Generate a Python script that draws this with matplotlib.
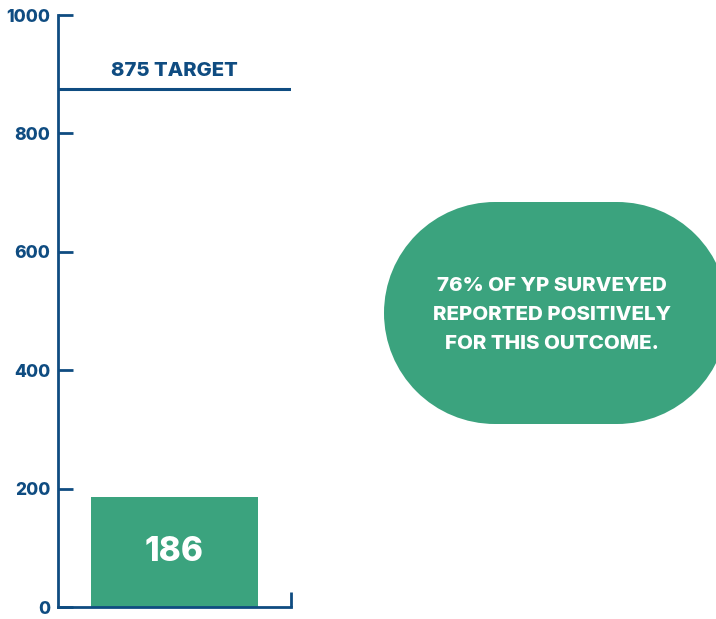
import matplotlib
matplotlib.use("Agg")
import matplotlib.pyplot as plt
from matplotlib.patches import Circle, Rectangle

# Data
categories = ["YP"]
values = [186]
target = 875
yticks = [0, 200, 400, 600, 800, 1000]
target_label = "875 TARGET"
note_text = "76% OF YP SURVEYED\nREPORTED POSITIVELY\nFOR THIS OUTCOME."

BLUE = "#0f4c81"
GREEN = "#3ba37e"
W, H = 716, 619

plt.rcParams['font.family'] = ['Inter', 'DejaVu Sans']

fig = plt.figure(figsize=(W / 100, H / 100), dpi=100)

# Background overlay axes in pixel coordinates for the pill
bg = fig.add_axes([0, 0, 1, 1])
bg.set_xlim(0, W)
bg.set_ylim(H, 0)
bg.axis("off")
R = 111
cy = 313
for cx in (495, 617):
    bg.add_patch(Circle((cx, cy), R, facecolor=GREEN, edgecolor="none"))
bg.add_patch(Rectangle((495, cy - R), 122, 2 * R, facecolor=GREEN, edgecolor="none"))
bg.text(552, 315, note_text, ha="center", va="center", color="white",
        fontsize=14.8, fontweight="heavy", linespacing=1.78)

# Main bar chart
ax = fig.add_axes([58 / W, (H - 607) / H, (291 - 58) / W, 592 / H])
ax.set_xlim(-0.5, 0.5)
ax.set_ylim(0, 1000)
ax.bar([0], values, width=0.72, color=GREEN, zorder=2)
for v in values:
    ax.text(0, v / 2, str(v), ha="center", va="center", color="white",
            fontsize=24, fontweight="heavy")

ax.axhline(target, color=BLUE, lw=2.2, zorder=3)
ax.text(0, target + 16, target_label, ha="center", va="bottom", color=BLUE,
        fontsize=14.6, fontweight="heavy")

for s in ["top", "right"]:
    ax.spines[s].set_visible(False)
for s in ["left", "bottom"]:
    ax.spines[s].set_color(BLUE)
    ax.spines[s].set_linewidth(2)
ax.set_yticks(yticks)
ax.set_yticklabels([str(t) for t in yticks])
ax.tick_params(axis="y", direction="in", length=11, width=2, color=BLUE,
               labelcolor=BLUE, labelsize=12.5, pad=5.5)
for lab in ax.get_yticklabels():
    lab.set_fontweight("heavy")
ax.set_xticks([0.5])
ax.set_xticklabels([""])
ax.tick_params(axis="x", direction="in", length=11, width=2, color=BLUE)
ax.patch.set_alpha(0)

fig.savefig("out.png", dpi=100)
